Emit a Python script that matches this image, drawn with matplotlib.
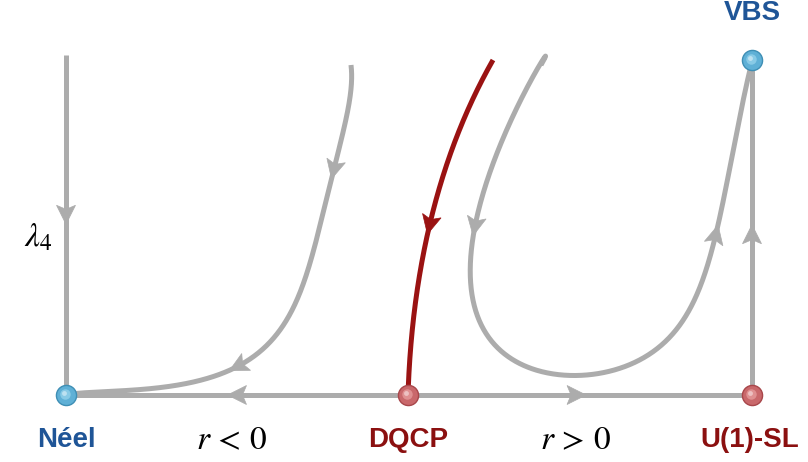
import numpy as np
import matplotlib
matplotlib.use("Agg")
import matplotlib.pyplot as plt
from matplotlib.patches import Polygon
from math import comb

plt.rcParams['mathtext.fontset'] = 'stix'

# ---- data (diagram coordinates, y grows downward) ----
fixed_names = ["Néel", "DQCP", "U(1)-SL", "VBS"]
fixed_x = [66, 408, 752, 752]
fixed_y = [395, 395, 395, 60]
fixed_kind = ["blue", "red", "red", "blue"]

# straight flow lines: (x0, y0, x1, y1)
axis_left = [408, 395, 66, 395]          # DQCP -> Neel
axis_right = [408, 395, 752, 395]        # DQCP -> U(1)-SL
lambda_axis = [66, 55, 66, 395]          # top -> Neel
sl_to_vbs = [752, 395, 752, 60]          # U(1)-SL -> VBS

# left flow curve (r<0 side): points read along it
left_x = [351, 345, 335, 321, 305, 285, 262, 238, 210, 160, 110, 66]
left_y = [65, 120, 170, 220, 277, 323, 350, 367, 377, 387, 392, 395]
left_arrows = [2, 7]

# U-shaped flow curve (r>0 side, ends at VBS)
u_x = [541, 507, 490, 478, 472, 477, 507, 540, 573, 613, 640, 663, 683, 697,
       707, 714, 723, 733, 743, 752]
u_y = [65, 123, 173, 227, 273, 323, 357, 370, 374, 370, 362, 345, 322, 295,
       265, 234, 195, 155, 110, 62]
u_arrows = [3, 15]

# critical (red) flow line into the DQCP
red_x = [493, 470, 448, 430, 418, 411, 408]
red_y = [60, 105, 160, 225, 285, 340, 395]
red_arrows = [3]

GRAY = "#acacac"
RED = "#9a1212"
BLUE_T = "#1f5597"
RED_T = "#8b1010"
LW = 3.6

fig = plt.figure(figsize=(8.08, 4.62), dpi=100)
ax = fig.add_axes([0, 0, 1, 1])
ax.set_xlim(0, 808)
ax.set_ylim(462, 0)
ax.axis("off")


def bern(t, deg):
    t = np.asarray(t)[:, None]
    k = np.arange(deg + 1)[None, :]
    c = np.array([comb(deg, i) for i in range(deg + 1)])[None, :]
    return c * t ** k * (1 - t) ** (deg - k)


def fit_bezier(xs, ys, deg, iters=30):
    """Least-squares smooth Bezier through the read points (ends pinned)."""
    P = np.column_stack([xs, ys]).astype(float)
    d = np.r_[0, np.cumsum(np.hypot(*np.diff(P, axis=0).T))]
    t = d / d[-1]
    grid = np.linspace(0, 1, 3000)
    for _ in range(iters):
        B = bern(t, deg)
        rhs = P - np.outer(B[:, 0], P[0]) - np.outer(B[:, -1], P[-1])
        inner, *_ = np.linalg.lstsq(B[:, 1:-1], rhs, rcond=None)
        C = np.vstack([P[0], inner, P[-1]])
        curve = bern(grid, deg) @ C
        dist = ((P[:, None, :] - curve[None, :, :]) ** 2).sum(-1)
        t = grid[dist.argmin(1)]
        t[0], t[-1] = 0.0, 1.0
    return C, t


def arrowhead(pt, d, color, L=19, W=9.5, notch=4):
    d = np.asarray(d, float)
    d = d / np.hypot(*d)
    n = np.array([-d[1], d[0]])
    tip = pt + d * L / 2
    back = pt - d * L / 2
    poly = [tip, back + n * W, back + d * notch, back - n * W]
    ax.add_patch(Polygon(poly, closed=True, fc=color, ec=color, lw=0.5, zorder=4))


def draw_smooth(xs, ys, arrows, color, deg):
    C, t = fit_bezier(xs, ys, deg)
    grid = np.linspace(0, 1, 600)
    pts = bern(grid, deg) @ C
    ax.plot(pts[:, 0], pts[:, 1], color=color, lw=LW, solid_capstyle='butt',
            solid_joinstyle='round', zorder=2)
    for k in arrows:
        ta = t[k]
        p = bern([ta], deg) @ C
        q = bern([min(ta + 0.005, 1)], deg) @ C
        r = bern([max(ta - 0.005, 0)], deg) @ C
        arrowhead(p[0], (q - r)[0], color)


def draw_line(L, color, frac):
    x0, y0, x1, y1 = L
    ax.plot([x0, x1], [y0, y1], color=color, lw=LW, solid_capstyle='butt', zorder=2)
    p = np.array([x0 + (x1 - x0) * frac, y0 + (y1 - y0) * frac])
    arrowhead(p, (x1 - x0, y1 - y0), color)


draw_line(axis_left, GRAY, 0.5)
draw_line(axis_right, GRAY, 0.49)
draw_line(lambda_axis, GRAY, 0.47)
draw_line(sl_to_vbs, GRAY, 0.48)

draw_smooth(left_x, left_y, left_arrows, GRAY, deg=5)
draw_smooth(u_x, u_y, u_arrows, GRAY, deg=6)
draw_smooth(red_x, red_y, red_arrows, RED, deg=3)

# fixed points (sphere-like)
styles = {"blue": ("#3f8fb5", "#5fb0d6", "#9ad6ee"),
          "red": ("#a8474b", "#c9686b", "#e9a2a2")}
for x, y, k in zip(fixed_x, fixed_y, fixed_kind):
    edge, base, hi = styles[k]
    ax.plot(x, y, 'o', ms=14.5, mfc=base, mec=edge, mew=1.0, zorder=5)
    ax.plot(x - 1.5, y - 1.5, 'o', ms=7.5, mfc=hi, mec='none', alpha=0.7, zorder=6)
    ax.plot(x - 2, y - 2, 'o', ms=3.5, mfc='white', mec='none', alpha=0.45, zorder=7)

# labels
lab = dict(family=['Liberation Sans', 'DejaVu Sans'], weight='bold', fontsize=20,
           ha='center', va='center')
for name, x, y, k in zip(fixed_names, fixed_x, fixed_y, fixed_kind):
    ty = 13 if y < 200 else 440
    tx = x - 2 if name == "U(1)-SL" else x
    ax.text(tx, ty, name, color=BLUE_T if k == "blue" else RED_T, **lab)

ax.text(232, 440, r"$r\,<\,0$", fontsize=24, ha='center', va='center', color='black')
ax.text(576, 440, r"$r\,>\,0$", fontsize=24, ha='center', va='center', color='black')
ax.text(38, 237, r"$\lambda_4$", fontsize=24, ha='center', va='center', color='black')

fig.savefig("out.png", dpi=100)
